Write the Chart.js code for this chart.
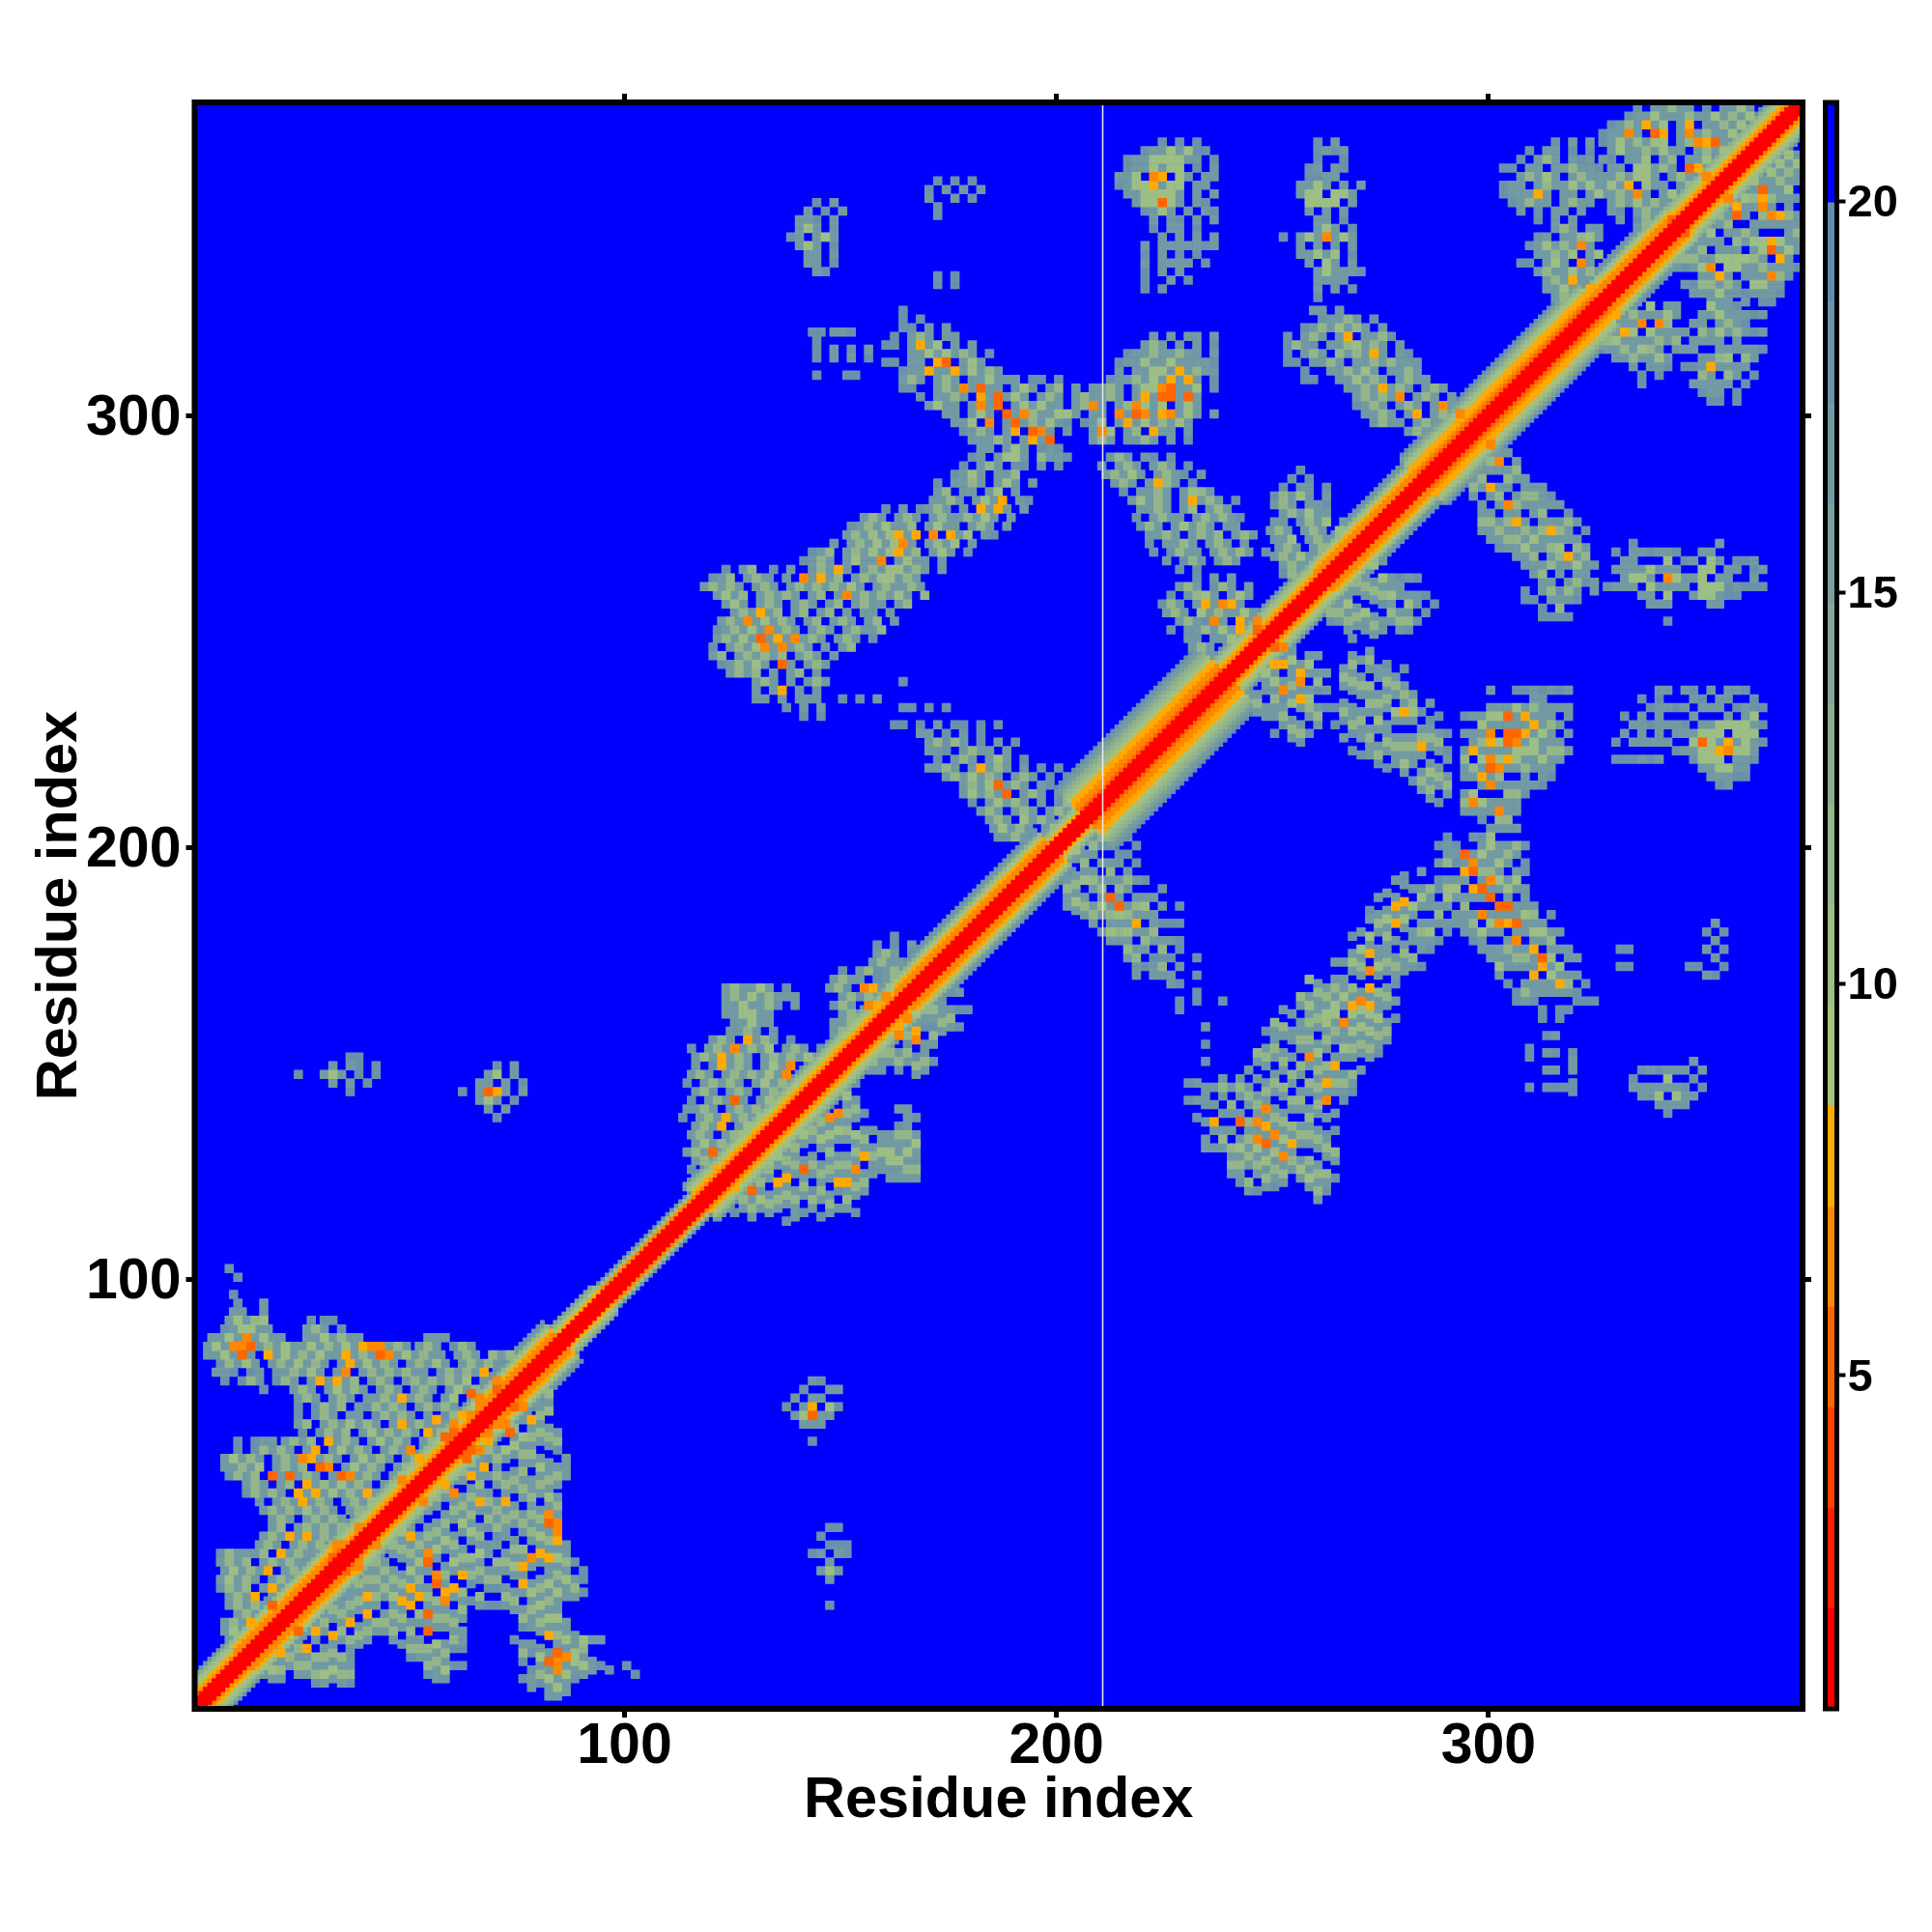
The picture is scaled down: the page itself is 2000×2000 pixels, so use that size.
<!DOCTYPE html>
<html>
<head>
<meta charset="utf-8">
<script src="https://cdn.jsdelivr.net/npm/chart.js@4/dist/chart.umd.min.js"></script>
<style>
html,body{margin:0;padding:0;background:#fff}
#wrap{position:relative;width:2000px;height:2000px;overflow:hidden}
canvas{position:absolute;top:0}
</style>
</head>
<body>
<div id="wrap">
<canvas id="map" width="2000" height="2000" style="left:0"></canvas>
<canvas id="bar" width="120" height="2000" style="left:1880px"></canvas>
</div>
<script>
// DATA
const axisTicks=[100,200,300];
const barTicks=[5,10,15,20];
const binEdges=[0.74,2.02,3.31,4.59,5.87,7.15,8.44,9.72,11,12.28,13.57,14.85,16.13,17.41,18.7,19.98,21.26];
const binColors=['#FF0000','#FF2200','#FF4400','#FF6600','#FF8800','#FFAA00','#A6C47F','#9DBE85','#94B68A','#8CAE90','#83A696','#7A9F9C','#729AA3','#6A92AA','#628BB2','#0000FF'];
// char to colour bin, position in this string is the bin
const levelChars='0123456789_bacd';
const seamResidue=[210.7];

// diagonal band, level per sequence separation
const bandProfiles=['00047c','000568b','00045679c','00044568ac','0003455679bd','000344567 8bad'.replace(' ',''),'00034455678 9bad'.replace(' ','')];
const bandFrom=[1,12,36,68,86,96,118,140,165,200,207,240,262,285,326,345];
const bandTo=[11,35,67,85,95,117,139,164,199,206,239,261,284,325,344,372];
const bandKind=[2,3,2,3,1,0,2,2,3,1,6,2,3,4,3,2];

// contact patches above the diagonal, rows are "x cells x cells", 2 residues a cell, 2 a row
const blobA=["214 .....c.c.c..","214 ...caa7a7cc.","214 .caa7777aa.c","214 .caa7a77.c.a","214 aa7.45.7a.aa","214 ca775a77.aa.","214 .aa7777a.a.a","214 ..a7737a.ac.","214 ...ca7a.a.ac","214 ....a.ac.a.a","214 ....c.aa.c..","214 .....a.a.a.a","214 ...a.aaaaaca","214 ...c.a.c.c..","214 ...a.aaaa.c.","214 ...c.a.a....","214 ...c..a.c...","214 ...c.c......"];
const blobB=["252 ....c.a...","252 ....caca..","252 ....c..c..","252 ...ca.ac..","252 ...ccaa...","252 ..aa7a.a.a","252 ..a77.77a.","252 ...7777.a.","252 ...a.a.a..","252 ....aa.c..","252 ....a7a.c.","252 c.a7a4a7a.","252 ..a.a.a.a.","252 ..aa7a7.c.","252 ...a.7a.a.","252 ....a7aaac","252 ....aaaa..","252 ....a.a.c.","252 ....c....."];
const blobC1=["303 ......c.a.a.","303 ...c.aa.c.c.","303 ..c.a8a.aca.","303 cc.aa.aa8aac","303 ..a8a7a.a8aa","303 caa.a8aa7a7a","303 caaa5a.aa.a7","303 .ca8aa.a8aa.","303 ..a.c.aa.a..","303 ....c.a.a..."];
const blobC2=["326 ....c.aa8aa.c.aa7a","326 ...caa7aaa8aa7a8a7","326 .ca8a5a7.a5.aa8a7","326 caa4a.35.a4a8aa7","326 ca7a8a77.a8453a","326 .a7aa8a7aa.a8a7","326 ac.aa7.a8.aa7a","326 .aa.77a8a.35aa","326 aa8a77a.a8a.45","326 a7a5.7aa.a8a.7","326 aa8a4a.a7.aa8a","326 .a8a7a8a.a8.7a.","326 .ac.a8a.aa8a.a","326 ..a.c8a.3a.a8a","326 ....a8a.3.a7.."];
const blobC3=["307 ....a8a.aa","307 ..ca.aa87a","307 .ca7a8a4a.","307 ..aa8a7.a7","307 cc.a7a.4a.","307 ..a8aa7a8a","307 ...a8a5aa7","307 ...aa7a.5a","307 ....a8a.a.","307 ......c.a."];
const blobD=["144 c.a","142 a.c.a","140 aac.a","140 a7a.a","138 ca.a7a","140 a7a.c","140 .aa.a","142 aa.c","144 ac"];
const blobE=["172 c.c.c","170 c.a.a.a","170 a..a.c","170 .c","172 c","172 .","172 .","172 .","172 .","172 .","172 .","172 c.c","172 c.c"];
const blobF=["143 cc 148 aac","144 c","144 c.a.c.a","144 c.a.a.c","144 .","144 c 151 cc"];
const blobK=["259 aa.a","261 caa8a.c","257 ca8a7a8a.a","253 c.a8a.a5.aa8c","253 c8ac.aa87a8a.a","253 c.a8a.8a8a5a.ac","253 cc.aa8a.aa8a8aaa","257 c..aa8a7a.aa8a","257 cc..aa7a8a.a8aa","267 aa8a5a8a.a8a","269 a8a8a4.a8a.a","269 ca8a.a8a.a4a","271 aa8a.a5.a8.4","273 a8aa.a8a.a","281 a8a.aa"];
const blobH=["208 .......a.a.aa.a","208 ......a8a.a.a.c","208 ....caa8aa8aa.a","208 ...caa7aa7aaaac","208 ...a.aa77a5a8aa","208 ..caa8a7a5a5a.c","208 .a8a.a7743aa7.c","208 aa8a.a5a33a3a..","208 ca.a847a7.a7a..","208 aa.4a34a54a7a.a","208 a7.a5a7a8a7a..","208 a47.a8.5aa.a....","208 a8a.aa8a.a.c..."];
const blobG=["164 c","164 c.c","164 cc.a.a","162 c.a8a.aa","160 cc.a5a7.a.a","166 aa7a7a8a.c","160 cc.aa.53.a7a","164 caa5aa5a7a8a","164 a8a.a8a.aa7aa 190 a.cc.c","164 cc..a8a4a3aa.a 190 a7a.a8.a.a","168 c.aa8a.5a3a7a 190 aa.a8a.a8a","170 a7aa.a4a3.a7a 190 a7a7aa.a84","174 aa.a7a.3a4.aa 192 a8a.77a.a","176 aa7.4.a3a8a7a 190 cc.a..c.c","178 ca8a.a5.34a.a","180 aaa8a.a5a3"];
const blobL=["182 aa.a7a.cac","180 ca.a77a.8aac","178 c.a8a.cc.a.c","176 ca7a.aa8","172 c.aa8a.a7a.a","172 a8.aa.a7.a","169 .aa8a.a7a5.ac","160 c.a.ca8a.a.5a5a.a","155 a8a.a8a.a8aa8a7a.a","152 ca8a7aa8.a7aa.a8a.a","151 a8a7a75a5.4.5a7.ac","148 a.a8a7a74a.a8a7.a","143 ca8.a8a7a75a8.a7a.c","141 ca8a.a7aa4.a7aa.a","123 c.a8 134 c.a 143 a8a5a.a8a77a8a.a","120 ca8.a8a 133 c.a.4a5a8.a8a77a8a","118 a8a8a.a8a.a8a8a8a7a.a8aa8a","121 a7a8.a8a8a.a8.a4a8a8a7a.8","123 a7a.a8a.a8a.a8.a8aa.a8","123 .a8a5a8.a8.a8.a.aa.a","122 a8a4a7a8a.a8.a8a.a8.a","121 ca8a7a4a8a.a8a.a8aa8","121 a8a7a3a5a4a8a.a8a.c","120 c.a8a74a4a8a.a.a8","120 a8.a8a8a8.a8a.a","122 ca8a7a.3a.a8a","124 a8a8.a.a8.a","130 a8a.a.a8a","130 a.a5.a.a","130 aa.a.aaa 150 c.c.a","137 c.a.a","141 c.c"];
const blobJ=["212 a8a.ac.c","210 c.a8a.a8a.c","211 a8a7a.a8ac.a","213 a8a.a58a.c","215 c.aa8a.a78a","217 a7a8a.a5a8a.c","219 aa8a.a7.a8a","218 c.a8aa.a8a8ac","219 c8a.a7a8a.aa","221 aa8a.a8a8.a8a","221 c.aa8a.a8a.a","222 c.c8aa.a8a8a.c","225 a.c8a.a8a","228 c.c"];
const blobM2=["232 c.a.a","228 a8a.c8a.a","226 c.a87a.a7a","224 c8a.a5a45a","225 a8a.7a8aa7a","228 a8ac4a.5a4a7","226 c.aa8a7a5a3a","230 aa.aa7a7.3","231 a8a.a7a.a","233 ca.a7a"];
const blobM1=["256 c","254 c.c","252 c.aa.c","250 c8a7a.a","250 a8a.aac","252 a8a7aa","250 aa.c8a7.aa","249 a8a.a8a.7a","250 aa7.a8a.a","251 a8a.a8a7a","250 a8a7a.aa7a","252 a8a.a7a.a","252 c8aa.a7","256 aa7.a","258 a7"];
const blobN=["164 c",". .",". .","164 cc.c.c",". .","162 cc.c.a.cc.c.c","168 aa.c.a.c","170 a8c8a.c.a.c","170 aac.a8aa.a","172 c.a8a.a7a.c","170 aa8a.a5a8a.a.c.c","174 a8a7a8a.a8a.c.c","178 a8a73a8a.ac.a.a","178 a7a8a3.a8a.aa","180 c.a7a8a.a.c8ac","182 a8a.a8a.a8a7","184 a8a.7a8a.a","185 a7a8a.a7","186 aa8a.a"];
const blobO=["123 a8aa7a.c","123 a8a7a8aaa","123 aa7aa8c.a","123 aa77aa","125 aa7aa","124 aa8a.a","120 a8a.5a8a.c","115 c.a8a4a8a7.a8a.c","116 a8a5a8a.a8a8a7a","116 a.c5a8a.a7a4","115 a8a.a8a8a7a4","114 c.a8a8a.a7a8a","116 a8c.a8a.a8a7","115 c.a8a3a.a7.a","114 aa8a.a8a8a.a","113 c.a8a5a8a7.a87","116 a8a5.a7a8a7","115 a8a.a87a77","116 a7a8a.a77","114 a8a3a.77","116 a8a.a7.7","115 c.a5","116 a8a7","114 a8a.7","116 a7"];
const blobP=["162 c","158 c.c.a","158 a8a.c.a","157 a8aa.a8a","150 c.a8ca8aa.a","148 a8aa.ca8a","147 a8c.45a7.a","150 a8c8a4","148 c8a.45","150 a8a.7a","148 aa8a7","148 a8a7"];
const blobQ1=["36 cc","32 a.ac.c","24 c 30 a7a.c.c","32 a.a.c","36 c"];
const blobQ2=["70 c.a","68 a7.a","66 aa.a.c","62 c 66 a35a.a","66 a7a.c","68 a.a","70 c"];
const blobR=["8 c","10 c",". .","9 c","10 c 16 a","9 aa 16 a","8 a7a87 27 c 30 cc","7 ca77aa 26 a8a.c","4 aa7a4a7aa 26 aa7a8aa 54 aaa","3 a7a443a8a7aa7a8a7a544a8a 52 a8a.c8a","3 aa7a3a.5a7a8a7aa5a8a34a7a8aa.a8a.8a8aa","6 c8a7a.a8a7a8a.a5a7a8a.a8a7a.a8a8a","5 aac.ca.aa8a7a.a4.a8a8a8aa.a8a8a5","7 c.c8a.c8a.a5a5a8.a8a.a8a8a8a7.a","16 c 23 a8a.a7a8a.a8a.a8a.a7a8a8a","24 a8a.a8a.aa8a5a8a.a7.a7a.4a","24 c.c8a8.ac8a8a.a8a8a.a8a8a34","24 c.c8a.aa.c8a8a.a.c8a8a 62 54a","24 a8.a8a7a8a.a5a8a.a7a8a344","25 c.c8a8.a7a8a8a.a8a.a8a8a3","10 c.c 16 aa 21 a8a8.5a8a.a7a8a.a8a34","10 c.c8a8a.a5.a7a8a.a8a5.a8a5a34","7 a7a8a.a8a45a8a.a7a8a.a8a8a5a3","7 aa8a7.a8a8.34.a7a8a.a8a8a.a7.a5","8 c8a8.3a3a8a.a34a8a.a7a8a.a8a5","12 a8a.a8.5a8a7a8a.a8a.a8a5","12 c8a8a.5a5a7a8a5a.a7a8a8a4","15 a.a8a5a8a.a8a7a8a8a4","16 a8a8a7a8a.a8a.a5","18 a8a.a8a8a.a8a5","18 a8.a8a8a8a4","16 a8a5a5a8a8a5","15 a8a.a8a8a4","6 c8aa 14 a8.5a8aa8a3a","6 a8a8.a8a8a.a8a344","7 a7a8a5.a8a7a3435","6 a7a8a.a8a8a","6 c8a8.a5a7a","8 a8a5.a7","8 a8a8a3","10 a8a7a","7 a8a5","7 a7a8","8 a7a"];
const blobRows=[blobA,blobB,blobC1,blobC2,blobC3,blobD,blobE,blobF,blobK,blobH,blobG,blobL,blobJ,blobM2,blobM1,blobN,blobO,blobP,blobQ1,blobQ2,blobR];
const blobTops=[364,364,364,372,344,350,355,320,325,319,325,293,291,263,288,239,168,180,152,150,103];

// CELLS
const cells=new Map();
function setCell(x,y,lev){
  if(x<1||y<1||x>372||y>372)return;
  [[x,y],[y,x]].forEach(([a,b])=>{
    const k=a*1000+b;
    if(!cells.has(k)||cells.get(k)>lev)cells.set(k,lev);
  });
}
blobRows.forEach((rows,b)=>{
  rows.forEach((row,n)=>{
    const y=blobTops[b]-2*n,parts=row.split(' ');
    for(let p=0;p+1<parts.length;p+=2){
      const x0=+parts[p];
      [...parts[p+1]].forEach((ch,k)=>{
        const lev=levelChars.indexOf(ch);
        if(lev<0)return;
        for(let dx=0;dx<2;dx++)for(let dy=0;dy<2;dy++)setCell(x0+2*k+dx,y-dy,lev);
      });
    }
  });
});
bandFrom.forEach((from,s)=>{
  const prof=bandProfiles[bandKind[s]];
  for(let i=from;i<=bandTo[s];i++){
    [...prof].forEach((ch,d)=>{
      const a=i-Math.floor(d/2);
      setCell(a,a+d,levelChars.indexOf(ch));
    });
  }
});
const levelPoints=binColors.map(()=>[]);
cells.forEach((lev,k)=>levelPoints[lev].push({x:Math.floor(k/1000),y:k%1000}));

// CHARTS
const ticksAt=vals=>scale=>{scale.ticks=vals.map(v=>({value:v}))};
const frame={id:'frame',
  beforeDatasetsDraw(c,a,o){if(o.fill){const r=c.chartArea;c.ctx.fillStyle=o.fill;c.ctx.fillRect(r.left,r.top,r.width,r.height)}},
  afterDraw(c,a,o){const r=c.chartArea;c.ctx.save();c.ctx.strokeStyle='#000';c.ctx.lineWidth=o.width;c.ctx.strokeRect(r.left,r.top,r.width,r.height);c.ctx.restore()}
};
function axis(pos,size,extra){
  return Object.assign({
    type:'linear',position:pos,min:0.5,max:372.7,afterBuildTicks:ticksAt(axisTicks),
    afterFit(s){if(pos==='left'||pos==='right')s.width=size;else s.height=size},
    grid:{display:true,drawOnChartArea:false,drawTicks:true,tickLength:9,tickWidth:5,color:'#000'},
    border:{display:false},
    ticks:{display:false}
  },extra||{});
}
const lblFont={family:'"Liberation Sans"',weight:'bold',size:59};
const ttlFont={family:'"Liberation Sans"',weight:'bold',size:59.5};
new Chart(document.getElementById('map'),{
  type:'scatter',
  data:{datasets:[
    {type:'line',data:seamResidue.flatMap(x=>[{x:x,y:0.5},{x:x,y:372.7}]),borderColor:'#EDEDED',borderWidth:1.5,pointRadius:0,xAxisID:'x',yAxisID:'y'},
    ...levelPoints.map((pts,i)=>({data:pts,backgroundColor:binColors[i],borderWidth:0,pointStyle:'rect',pointRadius:3.6,pointHoverRadius:3.6}))
  ]},
  plugins:[frame],
  options:{
    responsive:false,animation:false,devicePixelRatio:1,events:[],
    layout:{padding:0},
    plugins:{legend:{display:false},tooltip:{enabled:false},frame:{width:6,fill:'#0000FF'}},
    scales:{
      x:axis('bottom',231,{ticks:{display:true,color:'#000',font:lblFont,padding:-5,maxRotation:0,callback:v=>v},
        title:{display:true,text:'Residue index',color:'#000',font:ttlFont,padding:{top:0,bottom:100}}}),
      y:axis('left',201.5,{ticks:{display:true,color:'#000',font:lblFont,padding:5,labelOffset:3,callback:v=>v},
        title:{display:true,text:'Residue index',color:'#000',font:ttlFont,padding:{top:27,bottom:0}}}),
      x2:axis('top',106),
      y2:axis('right',134)
    }
  }
});
new Chart(document.getElementById('bar'),{
  type:'bar',
  data:{labels:['d'],datasets:binColors.map((col,i)=>({data:[[binEdges[i],binEdges[i+1]]],backgroundColor:col,borderWidth:0,barPercentage:1,categoryPercentage:1}))},
  plugins:[frame],
  options:{
    responsive:false,animation:false,devicePixelRatio:1,events:[],
    layout:{padding:{left:9.5,top:106,bottom:231,right:0}},
    plugins:{legend:{display:false},tooltip:{enabled:false},frame:{width:5}},
    scales:{
      x:{display:false,stacked:true},
      y:{position:'right',min:binEdges[0],max:binEdges[16],afterBuildTicks:ticksAt(barTicks),
        afterFit(s){s.width=98.5},
        grid:{display:true,drawOnChartArea:false,tickLength:9,tickWidth:4,color:'#000'},
        border:{display:false},
        ticks:{color:'#000',font:{family:'"Liberation Sans"',weight:'bold',size:47},padding:2,labelOffset:3,callback:v=>v}}
    }
  }
});
</script>
</body>
</html>
